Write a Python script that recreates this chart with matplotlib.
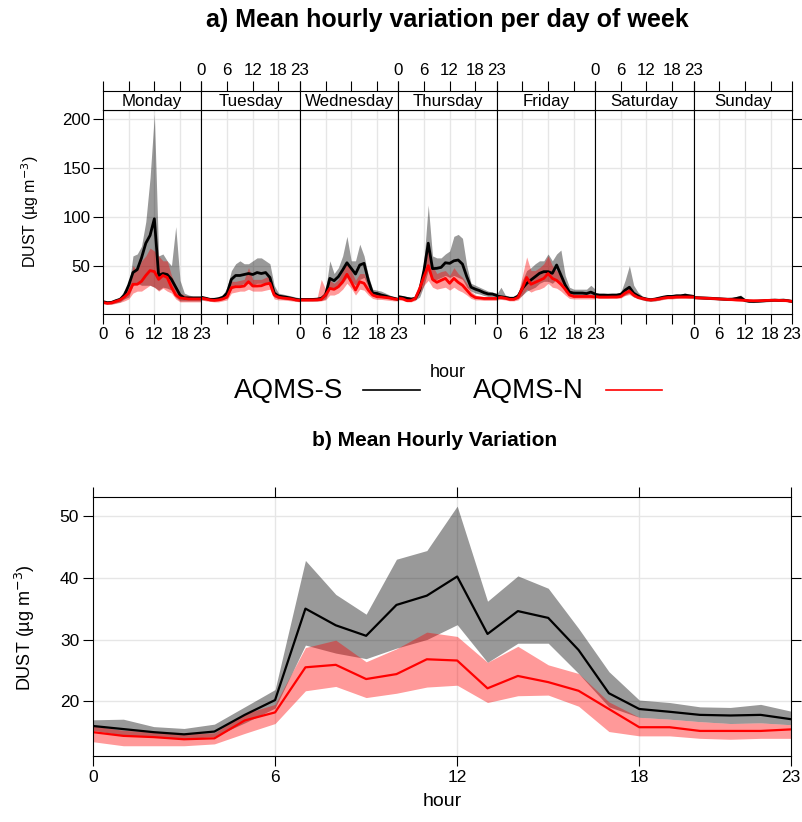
import matplotlib.pyplot as plt
import numpy as np
from matplotlib.lines import Line2D

plt.rcParams['font.family'] = ['Liberation Sans', 'DejaVu Sans']

DAYS = ['Monday', 'Tuesday', 'Wednesday', 'Thursday', 'Friday', 'Saturday', 'Sunday']
HOURS = np.arange(24)
HOUR_TICKS = [0, 6, 12, 18, 23]

# a) hour x day of week, one row of 24 hourly values per day (Mon..Sun)
S_MEAN = [
    [13.2, 12.2, 12.5, 14.2, 15.6, 20, 30, 43, 46, 58, 73, 81, 98, 40, 42, 41, 36, 28, 20, 17, 17, 17, 17, 17],
    [17.7, 16.7, 15.6, 15.6, 16.3, 17.7, 22, 36, 40, 40, 41, 42, 41, 43, 42, 43, 38, 22, 19, 18.3, 17.6, 16.7, 15.6, 15],
    [15.6, 15.5, 15.5, 15.5, 15.8, 16.5, 20, 37, 34.7, 38.8, 45.6, 53, 47.3, 41.5, 50.7, 52.4, 35, 22, 21.6, 20, 19, 17.6, 16.7, 15.6],
    [18.3, 17.6, 16.6, 15.9, 16.6, 25, 45, 73, 47, 47.3, 48.3, 53, 52.4, 55, 55.8, 51.6, 38.8, 28, 26, 24.5, 22.5, 21.1, 21, 19.5],
    [19, 18.3, 17.6, 16.7, 16.7, 19, 26.8, 31.9, 35.4, 38.8, 42.2, 43.9, 43.9, 42.2, 50.7, 40.5, 30.3, 23, 22, 22, 22, 21.5, 23, 21],
    [20.7, 20, 20, 19.8, 20, 20, 20.7, 25, 28, 21.9, 19.2, 16.9, 15.9, 15.2, 15.9, 16.9, 17.9, 18.6, 18.6, 19.2, 19.2, 19.9, 19.2, 18.6],
    [17.5, 17.3, 17.1, 16.9, 16.7, 16.4, 16.2, 15.9, 15.7, 15.8, 16.5, 17.5, 14.5, 13.6, 13.5, 13.7, 14, 14.3, 14.6, 14.8, 14.6, 14.8, 14.3, 13.5],
]
S_LO = [
    [11.5, 11, 11, 12, 13, 16, 18, 30, 32, 30, 30, 30, 28, 25, 28, 27, 25, 18, 14, 14, 14, 14, 14, 14],
    [15, 15, 14, 14, 14.5, 15.5, 17, 26, 30, 30, 32, 32, 30, 32, 32, 32, 30, 18, 16.5, 16, 15.5, 15, 14, 13.5],
    [14, 14, 14, 14, 14, 14.5, 16, 26, 26, 28, 32, 38, 34, 30, 36, 38, 28, 19, 18, 17.5, 17, 16, 15, 14.5],
    [16.5, 16, 15, 14.5, 15, 18, 30, 45, 34, 36, 38, 40, 38, 40, 38, 36, 28, 24, 22, 21, 19.5, 18.5, 18.5, 17.5],
    [17, 16, 16, 15, 15, 16.5, 20, 24, 26, 28, 32, 34, 34, 32, 36, 30, 23, 20, 20, 20, 20, 20, 20, 19],
    [19, 18.5, 18.5, 18.5, 18.5, 18.5, 18.5, 20, 22, 18, 17, 15, 14, 13.5, 14, 15, 16, 16.5, 17, 17, 17.5, 17.5, 17, 17],
    [16.2, 16, 15.8, 15.6, 15.4, 15.1, 14.9, 14.6, 14.4, 14.4, 14.8, 15.3, 13.2, 12.4, 12.3, 12.5, 12.8, 13.1, 13.4, 13.6, 13.4, 13.6, 13.1, 12.3],
]
S_HI = [
    [14.5, 13.5, 14, 16, 18, 25, 28, 60, 62, 70, 95, 140, 205, 60, 62, 55, 50, 90, 35, 22, 20, 19, 19, 19],
    [19, 18, 17, 17, 18, 20, 28, 45, 52, 55, 52, 52, 55, 58, 58, 55, 52, 30, 22, 21, 20, 19, 18, 17],
    [17, 17, 17, 17, 17.5, 19, 25, 55, 42, 48, 60, 80, 55, 55, 72, 60, 40, 26, 25, 24, 22, 20, 18, 17],
    [20, 19.5, 18.5, 17.5, 18.5, 28, 55, 112, 60, 58, 58, 62, 65, 80, 82, 78, 50, 32, 30, 28, 26, 24, 23, 22],
    [21, 28, 20, 18.5, 18.5, 21, 35, 45, 48, 52, 55, 55, 62, 55, 62, 66, 40, 28, 26, 26, 26, 26, 30, 26],
    [22, 21.5, 21.5, 21.5, 21.5, 21.5, 23, 35, 50, 30, 23, 19, 17.5, 17, 17.5, 18.5, 19.5, 20.5, 20.5, 21, 21, 22, 21, 20.5],
    [18.8, 18.6, 18.4, 18.2, 18, 17.7, 17.5, 17.2, 17, 17.3, 18.5, 20, 15.9, 14.8, 14.7, 14.9, 15.2, 15.5, 15.8, 16, 15.9, 16.1, 15.6, 14.7],
]
N_MEAN = [
    [12.5, 11.5, 12, 13.5, 15, 18, 22, 31, 31, 34, 40, 45, 44, 36, 40, 38, 28, 20, 17, 16.5, 16, 16, 16, 16],
    [16.7, 16, 15, 14.5, 15, 16, 18, 27.5, 28.5, 28.5, 29.2, 33.7, 29.2, 29.2, 29.5, 31.2, 32, 20, 17.7, 17, 16.5, 16, 15, 14.5],
    [15, 15, 15, 15, 15.2, 15.5, 20, 26.8, 25.8, 28.5, 33.6, 41.2, 33.6, 25.2, 33.6, 32, 25, 20, 18.3, 18, 17.5, 17, 16, 15.5],
    [16.6, 16.2, 14.3, 14.3, 16.6, 26.8, 38.8, 50, 36, 33, 35, 37, 32, 37, 33, 30, 25, 20, 17.5, 17, 16.5, 16.5, 16.5, 16.5],
    [16.7, 17.6, 16.7, 15.6, 15.6, 17.6, 27, 38, 31, 33, 35, 37, 42, 37, 35, 31, 26, 20, 18.5, 18.5, 18.5, 18.5, 18.5, 18],
    [18.6, 17.9, 17.9, 17.9, 18, 18, 18.5, 22, 24, 20, 17.5, 16.5, 15.5, 15, 15.5, 16, 17, 17.5, 17.5, 18, 18, 18, 18, 18],
    [17.3, 17.1, 16.9, 16.7, 16.5, 16.3, 16, 15.8, 15.5, 15.3, 15, 14.8, 14.5, 14.3, 14.2, 14.2, 14.3, 14.5, 14.6, 14.6, 14.5, 14.4, 14.2, 13.5],
]
N_LO = [
    [11, 10.5, 10.5, 11.5, 12.5, 14, 16, 22, 24, 24, 27, 30, 28, 24, 27, 24, 22, 16, 13, 13, 13, 13, 13, 13],
    [15, 14, 13.5, 13, 13, 14, 15, 22, 23, 24, 24, 26, 24, 24, 24, 25, 26, 16, 15, 15, 14.5, 14, 13.5, 13],
    [13.5, 13.5, 13.5, 13.5, 13.5, 14, 15, 20, 20, 22, 26, 32, 27, 20, 26, 25, 20, 16.5, 15.5, 15.5, 15, 14.5, 14, 14],
    [15, 14.5, 13, 13, 14.5, 22, 30, 35, 28, 26, 27, 28, 25, 28, 25, 23, 20, 16.5, 15, 15, 14.5, 14.5, 14.5, 14.5],
    [15, 15.5, 15, 14, 14, 15, 20, 26, 23, 25, 26, 28, 32, 28, 27, 24, 20, 16.5, 16, 16, 16, 16, 16, 16],
    [17, 16.5, 16.5, 16.5, 16.5, 16.5, 17, 19.5, 20.5, 18, 16, 15, 14, 13.5, 14, 14.5, 15.5, 16, 16, 16.5, 16.5, 16.5, 16.5, 16.5],
    [16.2, 16, 15.8, 15.6, 15.4, 15.2, 14.9, 14.7, 14.4, 14.2, 13.9, 13.7, 13.4, 13.2, 13.1, 13.1, 13.2, 13.4, 13.5, 13.5, 13.4, 13.3, 13.1, 12.4],
]
N_HI = [
    [14, 13, 13.5, 15, 17, 21, 30, 50, 45, 55, 60, 68, 65, 60, 55, 55, 40, 30, 22, 20, 19, 18, 18, 18],
    [18, 18, 17, 16, 16, 18, 20, 34, 34, 35, 36, 48, 36, 36, 36, 38, 40, 25, 20, 19, 18, 18, 17, 16],
    [16.5, 16.5, 16.5, 16.5, 16.5, 36, 26, 35, 32, 36, 45, 54, 45, 35, 42, 42, 30, 24, 21, 20, 19, 18.5, 17.5, 17],
    [18, 17.5, 16, 16, 18, 30, 48, 68, 50, 42, 44, 45, 40, 48, 42, 38, 32, 24, 20, 19, 18.5, 18, 18, 18],
    [18.5, 19.5, 18, 17.5, 17.5, 22, 40, 59, 45, 45, 48, 52, 60, 50, 45, 40, 32, 24, 21, 21, 21, 21, 21, 20],
    [20, 19.5, 19.5, 19.5, 19.5, 19.5, 20, 25, 28, 22, 19, 18, 17, 16.5, 17, 17.5, 18.5, 19, 19, 19.5, 19.5, 19.5, 19.5, 19.5],
    [18.4, 18.2, 18, 17.8, 17.6, 17.4, 17.1, 16.9, 16.6, 16.4, 16.1, 15.9, 15.6, 15.4, 15.3, 15.3, 15.4, 15.6, 15.7, 15.7, 15.6, 15.5, 15.3, 14.6],
]

# b) mean hourly variation
S_MEAN_H = [16.0, 15.5, 15.0, 14.65, 15.1, 17.8, 20.2, 35.0, 32.3, 30.6, 35.6, 37.1, 40.2, 30.9, 34.6, 33.5, 28.3, 21.3, 18.75, 18.3, 17.8, 17.7, 17.8, 17.1]
S_HI_H = [17.0, 17.1, 15.9, 15.6, 16.3, 19.1, 21.9, 42.8, 37.3, 34.1, 43.0, 44.4, 51.6, 36.2, 40.3, 38.3, 31.8, 24.8, 20.2, 19.8, 19.1, 19.0, 19.5, 18.4]
S_LO_H = [15.3, 14.5, 14.2, 13.9, 14.3, 16.5, 18.9, 29.1, 27.8, 26.9, 28.6, 30.0, 32.4, 26.3, 29.4, 29.4, 24.5, 19.1, 17.4, 17.1, 16.7, 16.4, 16.5, 16.2]
N_MEAN_H = [15.0, 14.4, 14.2, 13.85, 14.0, 16.9, 18.2, 25.5, 25.9, 23.6, 24.4, 26.8, 26.6, 22.1, 24.1, 23.1, 21.7, 18.75, 15.8, 15.8, 15.2, 15.2, 15.2, 15.45]
N_HI_H = [16.0, 15.3, 15.0, 14.7, 14.9, 18.0, 19.5, 28.7, 29.9, 26.4, 28.5, 31.2, 30.5, 26.3, 28.9, 25.9, 24.5, 19.9, 17.4, 17.1, 16.7, 16.4, 16.5, 16.2]
N_LO_H = [13.45, 12.8, 12.8, 12.8, 13.1, 14.8, 16.4, 21.7, 22.4, 20.6, 21.3, 22.3, 22.6, 19.8, 20.9, 21.0, 19.2, 15.1, 14.4, 14.4, 14.0, 13.85, 14.0, 14.0]

W, H = 803, 822
fig = plt.figure(figsize=(W / 100, H / 100), dpi=100)


def box(l, t, r, b):
    # pixel box -> figure fraction rect
    return [l / W, 1 - b / H, (r - l) / W, (b - t) / H]


GRID = '#e6e6e6'
FS = 12.2

# ---- a) panels
pw = (792 - 103) / 7
for i, day in enumerate(DAYS):
    l = 103 + i * pw
    ax = fig.add_axes(box(l, 110, l + pw, 314.3))
    ax.set_xlim(0, 23)
    ax.set_ylim(0.3, 209.2)
    for g in [50, 100, 150, 200]:
        ax.axhline(g, color=GRID, lw=1, zorder=0)
    for g in [6, 12, 18]:
        ax.axvline(g, color=GRID, lw=1, zorder=0)
    ax.fill_between(HOURS, S_LO[i], S_HI[i], color='black', alpha=0.4, lw=0)
    ax.plot(HOURS, S_MEAN[i], color='black', lw=2)
    ax.fill_between(HOURS, N_LO[i], N_HI[i], color='red', alpha=0.4, lw=0)
    ax.plot(HOURS, N_MEAN[i], color='red', lw=2)
    ax.set_xticks(HOUR_TICKS)
    ax.set_yticks([50, 100, 150, 200])
    ax.tick_params(direction='out', length=7, width=0.8, labelsize=FS, pad=2,
                   labelbottom=(i % 2 == 0), left=(i == 0), labelleft=(i == 0),
                   right=(i == 6), labelright=False)
    for s in ax.spines.values():
        s.set_linewidth(0.8)

    st = fig.add_axes(box(l, 90.7, l + pw, 110))
    st.set_xlim(0, 23)
    st.set_ylim(0, 1)
    st.set_yticks([])
    st.set_xticks(HOUR_TICKS)
    st.tick_params(axis='x', direction='out', length=7, width=0.8, labelsize=FS, pad=2,
                   bottom=False, labelbottom=False, top=True, labeltop=(i % 2 == 1))
    st.text(11.5, 0.45, day, ha='center', va='center', fontsize=FS)
    for s in st.spines.values():
        s.set_linewidth(0.8)

fig.text(447.5 / W, 1 - 20 / H, 'a) Mean hourly variation per day of week',
         ha='center', va='center', fontsize=18, fontweight='bold')
fig.text(30 / W, 1 - 212 / H, 'DUST (µg m$^{-3}$)', rotation=90,
         ha='center', va='center', fontsize=11.5)
fig.text(447.5 / W, 1 - 372 / H, 'hour', ha='center', va='center', fontsize=13)

# legend
fig.text(343 / W, 1 - 391 / H, 'AQMS-S', ha='right', va='center', fontsize=20)
fig.text(473 / W, 1 - 391 / H, 'AQMS-N', ha='left', va='center', fontsize=20)
fig.add_artist(Line2D([363 / W, 420 / W], [1 - 390 / H] * 2, color='black', lw=1.2))
fig.add_artist(Line2D([606 / W, 662 / W], [1 - 390 / H] * 2, color='red', lw=1.2))

# ---- b) panel
ax2 = fig.add_axes(box(93, 496.7, 791, 755.7))
ax2.set_xlim(0, 23)
ax2.set_ylim(11.19, 53.12)
for g in [20, 30, 40, 50]:
    ax2.axhline(g, color=GRID, lw=1, zorder=0)
for g in [6, 12, 18]:
    ax2.axvline(g, color=GRID, lw=1, zorder=0)
ax2.fill_between(HOURS, S_LO_H, S_HI_H, color='black', alpha=0.4, lw=0)
ax2.plot(HOURS, S_MEAN_H, color='black', lw=1.6)
ax2.fill_between(HOURS, N_LO_H, N_HI_H, color='red', alpha=0.4, lw=0)
ax2.plot(HOURS, N_MEAN_H, color='red', lw=1.6)
ax2.set_xticks(HOUR_TICKS)
ax2.set_yticks([20, 30, 40, 50])
ax2.tick_params(direction='out', length=7, width=0.8, labelsize=12.5, pad=3,
                top=True, right=True, labeltop=False, labelright=False)
for s in ax2.spines.values():
    s.set_linewidth(0.8)

fig.text(435 / W, 1 - 440 / H, 'b) Mean Hourly Variation',
         ha='center', va='center', fontsize=15, fontweight='bold')
fig.text(25 / W, 1 - 628 / H, 'DUST (µg m$^{-3}$)', rotation=90,
         ha='center', va='center', fontsize=13)
fig.text(442 / W, 1 - 801 / H, 'hour', ha='center', va='center', fontsize=14)

fig.savefig('out.png', dpi=100)
